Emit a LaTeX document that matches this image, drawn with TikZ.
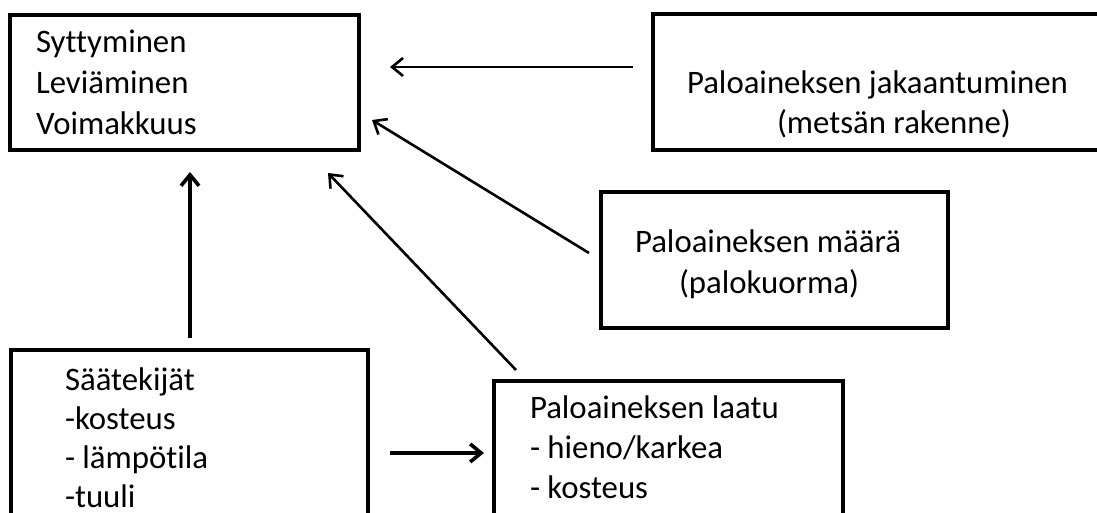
\documentclass[tikz,border=0pt]{standalone}
\usepackage{fontspec}
\setmainfont{Carlito}[Ligatures={NoCommon}]
\usetikzlibrary{arrows.meta}
\tikzset{
  box/.style={draw=black, line width=3.3pt, rectangle, inner sep=0pt, outer sep=0pt, anchor=north west},
  txt/.style={anchor=base west, inner sep=0pt, outer sep=0pt, font=\fontsize{32.8}{41}\selectfont},
  arr/.style={line width=3pt, -{Straight Barb[length=11pt,width=18pt]}},
}
\begin{document}
\begin{tikzpicture}[x=1pt,y=-1pt]
\useasboundingbox (0,0) rectangle (1097,513);
\clip (0,0) rectangle (1097,513);
\fill[white] (0,0) rectangle (1097,513);
% boxes
\node[box, minimum width=349pt, minimum height=135pt] (A) at (10,15) {};
\node[box, minimum width=470pt, minimum height=136pt] (E) at (653,14) {};
\node[box, minimum width=347pt, minimum height=136pt] (D) at (601,192) {};
\node[box, minimum width=357pt, minimum height=220pt] (B) at (11,350) {};
\node[box, minimum width=349pt, minimum height=220pt] (C) at (494,381) {};
% texts
\node[txt] (tA) at (36,53) {\vtop{\baselineskip=41pt\hbox{Syttyminen}\hbox{Leviäminen}\hbox{Voimakkuus}}};
\node[txt] (tE1) at (687,94) {Paloaineksen jakaantuminen};
\node[txt] (tE2) at (777,134) {(metsän rakenne)};
\node[txt] (tD1) at (635,252) {Paloaineksen määrä};
\node[txt] (tD2) at (679,293) {(palokuorma)};
\node[txt] (tB) at (65,390) {\vtop{\baselineskip=39.3pt\hbox{Säätekijät}\hbox{-kosteus}\hbox{- lämpötila}\hbox{-tuuli}}};
\node[txt] (tC) at (530,418) {\vtop{\baselineskip=40pt\hbox{Paloaineksen laatu}\hbox{- hieno/karkea}\hbox{- kosteus}}};
% arrow end points
\coordinate (eA) at (633,67);  \coordinate (tipE) at (390,67);
\coordinate (dA) at (589,253); \coordinate (tipD) at (372,120);
\coordinate (cA) at (516,370); \coordinate (tipC) at (328,173);
\coordinate (bA) at (190,338); \coordinate (tipB) at (190,172);
\coordinate (bC) at (390,453); \coordinate (tipBC) at (484,453);
\draw[arr, line width=2.6pt] (eA) -- (tipE);
\draw[arr, line width=2.6pt] (dA) -- (tipD);
\draw[arr, line width=2.6pt] (cA) -- (tipC);
\draw[arr, line width=3.6pt] (bA) -- (tipB);
\draw[arr, line width=3.6pt] (bC) -- (tipBC);
\end{tikzpicture}
\end{document}
